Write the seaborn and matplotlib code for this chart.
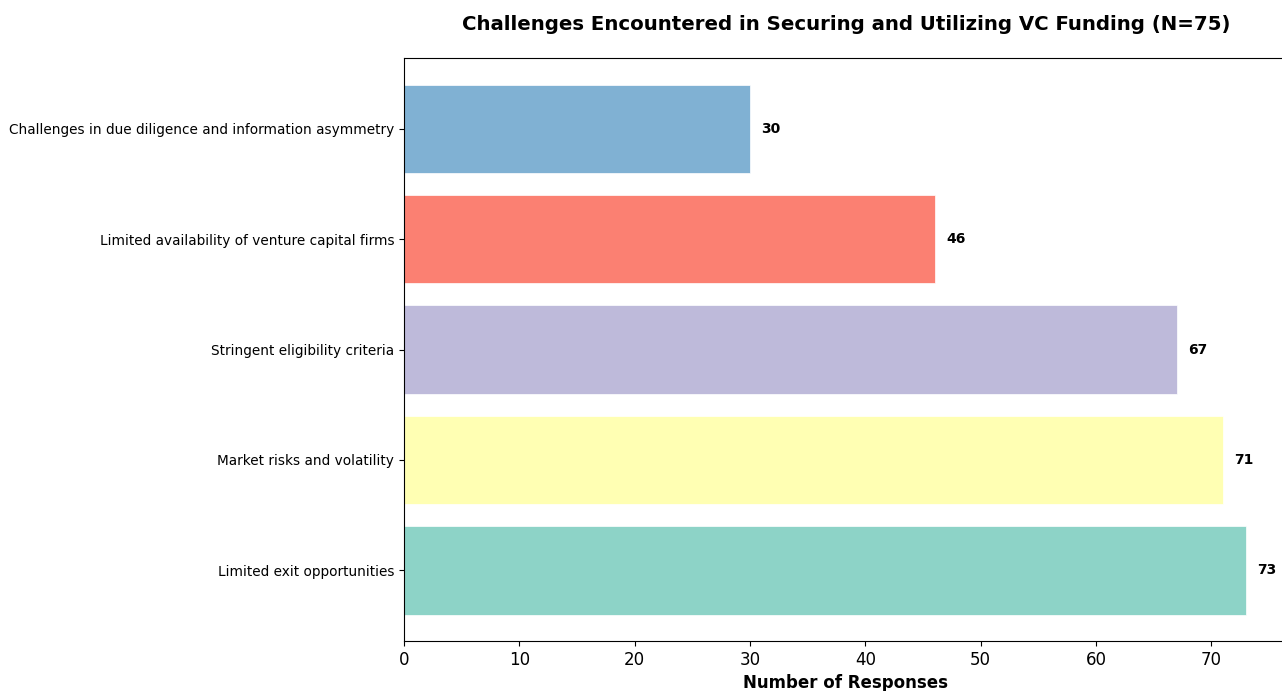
import matplotlib
matplotlib.use("Agg")
import matplotlib.pyplot as plt
import seaborn as sns
import pandas as pd

categories = [
    "Challenges in due diligence and information asymmetry",
    "Limited availability of venture capital firms",
    "Stringent eligibility criteria",
    "Market risks and volatility",
    "Limited exit opportunities",
]
responses = [30, 46, 67, 71, 73]
colors = ["#80b1d3", "#fb8072", "#bebada", "#ffffb3", "#8dd3c7"]
title = "Challenges Encountered in Securing and Utilizing VC Funding (N=75)"
xlabel = "Number of Responses"

sns.set_style("ticks", rc={
    "axes.edgecolor": "black",
    "xtick.color": "black",
    "ytick.color": "black",
    "text.color": "black",
    "axes.labelcolor": "black",
    "axes.linewidth": 1.0,
})
plt.rcParams["font.family"] = ["DejaVu Sans"]

df = pd.DataFrame({"Challenge": categories, "Responses": responses})

fig = plt.figure(figsize=(12.82, 6.91), dpi=100)
ax = fig.add_axes([404 / 1282, 50 / 691, 884 / 1282, 583 / 691])

sns.barplot(data=df, y="Challenge", x="Responses", hue="Challenge",
            palette=colors, order=categories, hue_order=categories,
            orient="h", width=0.8, legend=False, ax=ax, saturation=1,
            edgecolor="white", linewidth=0.5)

for i, v in enumerate(responses):
    ax.text(v + 1, i, str(v), va="center", ha="left",
            fontsize=10, fontweight="bold", color="black")

ax.set_xlim(0, max(responses) * 1.05)
ax.set_ylim(len(categories) - 0.36, -0.64)
ax.set_ylabel("")
ax.set_xlabel(xlabel, fontsize=12, fontweight="bold", labelpad=4)
ax.set_title(title, fontsize=14.2, fontweight="bold", pad=20)
ax.tick_params(axis="x", labelsize=12)
ax.tick_params(axis="y", labelsize=9.85)
for s in ax.spines.values():
    s.set_visible(True)

fig.savefig("out.png", dpi=100)
